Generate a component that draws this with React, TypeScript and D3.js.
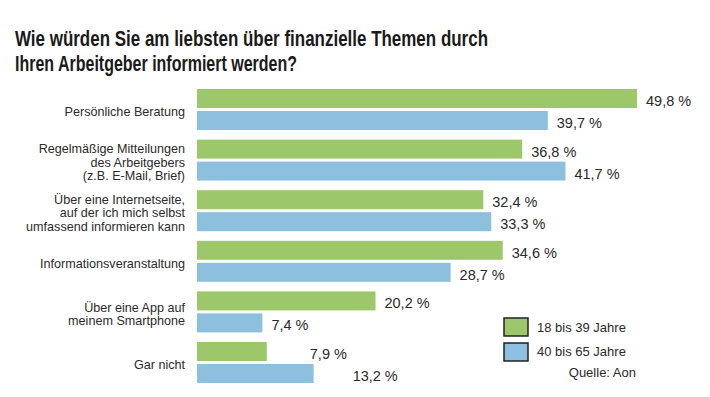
import React from 'react';
import * as d3 from 'd3';

const titleLines = [
  'Wie würden Sie am liebsten über finanzielle Themen durch',
  'Ihren Arbeitgeber informiert werden?',
];

const categories = [
  ['Persönliche Beratung'],
  ['Regelmäßige Mitteilungen', 'des Arbeitgebers', '(z.B. E-Mail, Brief)'],
  ['Über eine Internetseite,', 'auf der ich mich selbst', 'umfassend informieren kann'],
  ['Informationsveranstaltung'],
  ['Über eine App auf', 'meinem Smartphone'],
  ['Gar nicht'],
];

const seriesNames = ['18 bis 39 Jahre', '40 bis 65 Jahre'];
const young = [49.8, 36.8, 32.4, 34.6, 20.2, 7.9];
const old = [39.7, 41.7, 33.3, 28.7, 7.4, 13.2];
const source = 'Quelle: Aon';

const colors = ['#9cc76a', '#8cc0de'];
const font = '"Liberation Sans", Arial, sans-serif';

const fmt = (v: number) => v.toFixed(1).replace('.', ',') + ' %';

const App = () => {
  const W = 710, H = 397;
  const keys = categories.map((c) => c.join(' '));

  const x = d3.scaleLinear().domain([0, 50]).range([197, 197 + 441.8]);
  const y = d3.scaleBand().domain(keys).range([89, 383]).paddingInner(0.19).paddingOuter(0);
  const sub = d3.scaleBand().domain(['0', '1']).range([0, y.bandwidth()]).paddingInner(3 / 22);

  const series = [young, old];

  return (
    <svg width={W} height={H} style={{ position: 'absolute', left: 0, top: 0, background: '#fff' }} fontFamily={font}>
      {titleLines.map((t, i) => (
        <text key={i} x={15} y={46 + i * 25} fontSize={22.5} fontWeight="bold" fill="#1a1a1a"
          fontFamily='"Liberation Sans Narrow", "Arial Narrow", "Liberation Sans", Arial, sans-serif'
          textLength={i === 0 ? 473 : 282} lengthAdjust="spacingAndGlyphs">{t}</text>
      ))}

      {categories.map((lines, ci) => {
        const y0 = y(keys[ci])!;
        const mid = y0 + y.bandwidth() / 2 + 2;
        const lh = 13.4;
        return (
          <g key={ci}>
            {lines.map((l, li) => (
              <text key={li} x={185} y={mid + (li - (lines.length - 1) / 2) * lh} dy="0.35em"
                textAnchor="end" fontSize={12.6} fill="#2a2a2a">{l}</text>
            ))}
            {series.map((vals, si) => {
              const by = y0 + sub(String(si))!;
              const v = vals[ci];
              // last group labels sit further out in the original
              const shift = ci === categories.length - 1 ? (si === 0 ? 43 : 39) : 9;
              return (
                <g key={si}>
                  <rect x={x(0)} y={by} width={x(v) - x(0)} height={sub.bandwidth()} fill={colors[si]} />
                  <text x={x(v) + shift} y={by + sub.bandwidth() / 2 + 2.5} dy="0.35em" fontSize={14.5} fill="#2a2a2a">{fmt(v)}</text>
                </g>
              );
            })}
          </g>
        );
      })}

      {seriesNames.map((n, i) => (
        <g key={n}>
          <rect x={504} y={318 + i * 25} width={24} height={18} fill={colors[i]} stroke="#222" strokeWidth={1.5} />
          <text x={537} y={327 + i * 24} dy="0.35em" fontSize={13} fill="#2a2a2a">{n}</text>
        </g>
      ))}
      <text x={636} y={372} dy="0.35em" textAnchor="end" fontSize={13} fill="#2a2a2a">{source}</text>
    </svg>
  );
};

export default App;
